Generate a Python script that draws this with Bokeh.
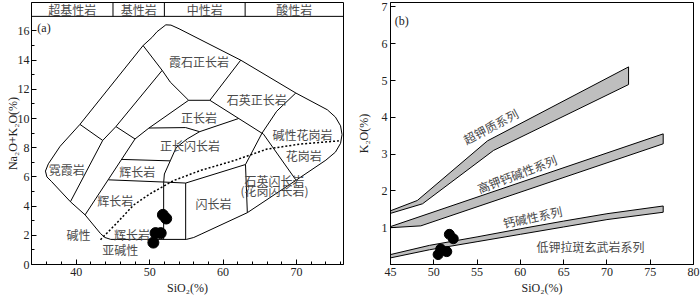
import math
from bokeh.plotting import figure
from bokeh.layouts import row
from bokeh.models import Range1d, FixedTicker, ColumnDataSource
from bokeh.core.properties import value
from bokeh.embed import file_html
from bokeh.resources import INLINE

CJK = "Noto Sans CJK SC"
SERIF = "Liberation Serif"

# ---------------- sample data ----------------
sio2 = [51.8, 52.25, 50.8, 51.5, 50.5]
alk = [3.4, 3.15, 2.15, 2.15, 1.5]
k2o = [0.82, 0.7, 0.42, 0.35, 0.27]

# ---------------- TAS (a) boundaries ----------------
outer_x = [52.2, 51.0, 50.3, 49.1, 40.5, 37.8, 36.2, 35.8, 36.0, 36.6, 39.2, 41.2, 43.3, 43.9, 44.7, 55.0, 56.0, 57.0,
           63.3, 69.9, 74.0, 75.3, 76.0, 76.2, 76.0, 75.3, 74.2, 69.9, 62.4, 54.0, 52.9, 52.2]
outer_y = [16.42, 15.95, 15.55, 15.0, 9.6, 8.1, 6.9, 6.4, 6.0, 5.7, 4.3, 3.4, 2.12, 1.85, 1.72, 1.72, 1.85, 2.08,
           3.55, 5.76, 7.15, 7.7, 8.3, 8.9, 9.5, 10.1, 10.6, 11.75, 14.0, 16.15, 16.4, 16.42]

seg_x = [
    [49.1, 51.7, 52.8, 55.3, 58.2, 62.4],
    [51.7, 45.4, 43.6],
    [40.5, 43.6, 39.2],
    [45.4, 48.0, 41.2],
    [55.3, 49.9, 48.0],
    [49.9, 54.9, 56.8, 62.1],
    [58.2, 65.5, 69.9],
    [69.9, 67.3, 65.3, 63.05, 63.3],
    [63.05, 54.9],
    [56.8, 55.1, 53.6, 52.8, 52.0, 51.9, 51.9],
    [46.2, 52.8],
    [44.4, 51.9, 54.9],
    [54.9, 54.9],
]
seg_y = [
    [15.0, 13.3, 12.5, 11.25, 11.25, 14.0],
    [13.3, 9.45, 8.5],
    [9.6, 8.5, 4.3],
    [9.45, 8.6, 3.4],
    [11.25, 9.35, 8.6],
    [9.35, 9.38, 9.1, 10.0],
    [11.25, 8.93, 5.8],
    [11.75, 10.5, 9.0, 6.85, 3.55],
    [6.85, 5.58],
    [9.1, 8.6, 8.0, 7.1, 6.2, 5.6, 1.72],
    [7.2, 7.1],
    [5.8, 5.65, 5.58],
    [5.58, 1.72],
]

irv_x = [43.3, 45.5, 47.8, 50.1, 53.3, 56.9, 61.5, 66.0, 70.5, 75.8]
irv_y = [1.7, 2.83, 4.07, 4.86, 5.76, 6.44, 7.12, 7.91, 8.25, 8.47]

tas_labels = ["霞石正长岩", "石英正长岩", "正长岩", "正长闪长岩", "碱性花岗岩", "花岗岩", "石英闪长岩",
              "(花岗闪长岩)", "闪长岩", "辉长岩", "霓霞岩", "辉长岩", "辉长岩", "碱性", "亚碱性"]
tas_lx = [56.7, 64.6, 56.7, 55.5, 70.8, 71.0, 67.0, 67.0, 58.7, 48.3, 38.7, 45.3, 47.6, 40.3, 46.0]
tas_ly = [13.9, 11.3, 10.05, 8.14, 8.93, 7.46, 5.76, 5.04, 4.18, 6.4, 6.49, 4.4, 2.03, 2.03, 1.06]

band_names = ["超基性岩", "基性岩", "中性岩", "酸性岩"]
band_edges = [33.9, 45, 52, 63, 76.4]

# ---------------- K2O-SiO2 (b) series bands ----------------
b1_x = [45, 48.1, 56.2, 72.5, 72.5, 56.9, 48.7, 45]
b1_y = [1.46, 1.74, 3.36, 5.37, 4.89, 3.1, 1.65, 1.39]
b2_x = [45, 76.5, 76.5, 48.5, 45]
b2_y = [1.03, 3.55, 3.28, 1.05, 1.0]
b3_x = [45, 49.5, 55, 60, 65, 70, 76.5, 76.5, 70, 65, 60, 55, 49.5, 45]
b3_y = [0.27, 0.52, 0.75, 0.97, 1.18, 1.38, 1.59, 1.42, 1.22, 1.02, 0.82, 0.62, 0.4, 0.18]

ser_labels = ["超钾质系列", "高钾钙碱性系列", "钙碱性系列", "低钾拉斑玄武岩系列"]
ser_x = [56.55, 59.6, 61.4, 68.1]
ser_y = [3.76, 2.47, 1.3, 0.49]
ser_deg = [28, 21, 12, 0]

TXT = "#4a4a4a"


def style_axes(p):
    for ax in (p.xaxis[0], p.yaxis[0]):
        ax.major_tick_in = 5
        ax.major_tick_out = 0
        ax.minor_tick_in = 3
        ax.minor_tick_out = 0
        ax.major_label_standoff = 3
        ax.axis_label_standoff = 2
        ax.axis_line_color = "black"
        ax.major_tick_line_color = "black"
        ax.minor_tick_line_color = "black"
        ax.major_label_text_font = SERIF
        ax.major_label_text_font_size = "12px"
        ax.major_label_text_color = "#222222"
        ax.axis_label_text_font = SERIF
        ax.axis_label_text_font_size = "12px"
        ax.axis_label_text_font_style = "normal"
        ax.axis_label_text_color = "#222222"
    p.xgrid.visible = False
    p.ygrid.visible = False
    p.outline_line_color = "black"
    p.outline_line_alpha = 1.0
    p.outline_line_width = 1


# ---------------- panel (a) ----------------
pa = figure(width=350, height=297, output_backend="svg", toolbar_location=None,
            x_range=Range1d(33.9, 76.4), y_range=Range1d(0, 17.95),
            min_border_left=31, min_border_right=7, min_border_top=1, min_border_bottom=32,
            x_axis_label="SiO₂(%)", y_axis_label="Na₂O+K₂O(%)")
style_axes(pa)
pa.yaxis[0].major_label_standoff = 2
pa.yaxis[0].axis_label_standoff = -5
pa.xaxis[0].ticker = FixedTicker(ticks=[40, 50, 60, 70],
                                 minor_ticks=[36, 38, 42, 44, 46, 48, 52, 54, 56, 58, 62, 64, 66, 68, 72, 74, 76])
pa.yaxis[0].ticker = FixedTicker(ticks=[0, 2, 4, 6, 8, 10, 12, 14, 16],
                                 minor_ticks=[1, 3, 5, 7, 9, 11, 13, 15])

# header band
pa.segment(x0=[band_edges[0]], y0=[17], x1=[band_edges[-1]], y1=[17], line_color="black", line_width=1)
pa.segment(x0=band_edges[1:-1], y0=[17] * 3, x1=band_edges[1:-1], y1=[17.95] * 3, line_color="black", line_width=1)
band_cx = [(band_edges[i] + band_edges[i + 1]) / 2 for i in range(4)]
pa.text(x=band_cx, y=[17.47] * 4, text=band_names, text_font=value(CJK), text_font_size="12px",
        text_color=TXT, text_align="center", text_baseline="middle")

pa.line(outer_x, outer_y, line_color="black", line_width=1)
pa.multi_line(seg_x, seg_y, line_color="black", line_width=1)
pa.line(irv_x, irv_y, line_color="black", line_width=1.5, line_dash="2 2")

pa.text(x=tas_lx, y=tas_ly, text=tas_labels, text_font=value(CJK), text_font_size="12px",
        text_color=TXT, text_align="center", text_baseline="middle")
pa.text(x=[34.7], y=[16.2], text=["(a)"], text_font=value(SERIF), text_font_size="12px",
        text_color="#222222", text_align="left", text_baseline="middle")

pa.scatter(sio2, alk, size=11, fill_color="black", line_color="black")

# ---------------- panel (b) ----------------
pb = figure(width=350, height=297, output_backend="svg", toolbar_location=None,
            x_range=Range1d(45, 80), y_range=Range1d(0, 7.12),
            min_border_left=40, min_border_right=7, min_border_top=2, min_border_bottom=32,
            x_axis_label="SiO₂(%)", y_axis_label="K₂O(%)")
style_axes(pb)
pb.xaxis[0].ticker = FixedTicker(ticks=[45, 50, 55, 60, 65, 70, 75, 80], minor_ticks=[])
pb.yaxis[0].ticker = FixedTicker(ticks=[1, 2, 3, 4, 5, 6, 7], minor_ticks=[])
pb.yaxis[0].axis_label_standoff = 8

pb.patches([b1_x, b2_x, b3_x], [b1_y, b2_y, b3_y], fill_color="#bebebe", line_color="black", line_width=1)

src = ColumnDataSource(dict(x=ser_x, y=ser_y, t=ser_labels, a=[math.radians(d) for d in ser_deg]))
pb.text(x="x", y="y", text="t", angle="a", source=src, text_font=value(CJK), text_font_size="12px",
        text_color=TXT, text_align="center", text_baseline="middle")
pb.text(x=[45.5], y=[6.63], text=["(b)"], text_font=value(SERIF), text_font_size="12px",
        text_color="#222222", text_align="left", text_baseline="middle")

pb.scatter(sio2, k2o, size=10, fill_color="black", line_color="black")

lay = row(pa, pb)

open("out.html", "w").write(file_html(lay, INLINE))
